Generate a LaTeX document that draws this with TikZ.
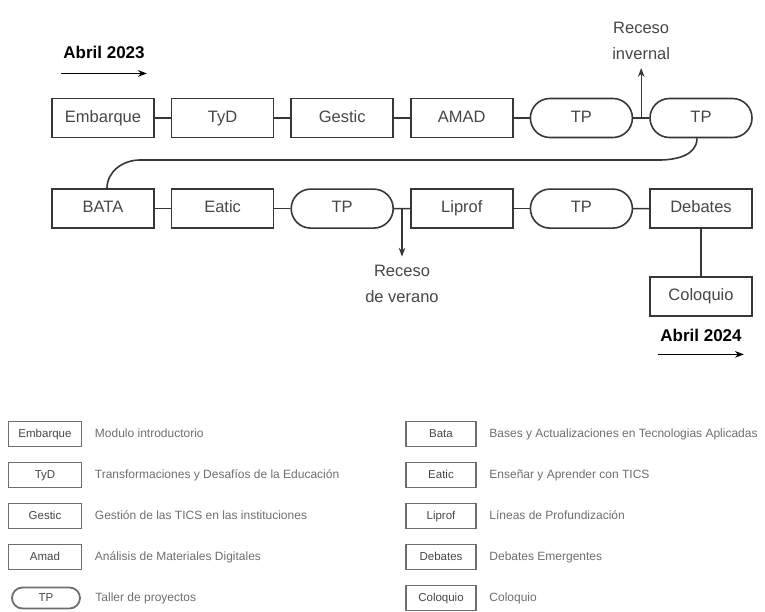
\documentclass[tikz,border=0pt]{standalone}
\usepackage{fontspec}
\setmainfont{Liberation Sans}
\usetikzlibrary{positioning, arrows.meta, shapes.misc}
\definecolor{linegray}{RGB}{55, 55, 55}
\definecolor{textgray}{RGB}{70, 70, 70}
\definecolor{leggray}{RGB}{110, 110, 110}

\begin{document}
\begin{tikzpicture}[x=1pt, y=-1pt, >=Stealth, node distance=16pt,
    every node/.style={font=\fontsize{16.5}{26}\selectfont, text=textgray},
    modbox/.style={draw=linegray, line width=1.6pt, minimum width=102pt, minimum height=39pt, inner sep=0pt,
        text height=12pt, text depth=3.5pt},
    tpbox/.style={modbox, rounded rectangle},
    link/.style={draw=linegray, line width=1.6pt},
    datelabel/.style={font=\fontsize{17}{20}\selectfont\bfseries, text=black, inner sep=2pt},
    legbox/.style={draw=leggray, line width=1.8pt, minimum width=73pt, minimum height=25pt, inner sep=0pt,
        text height=8.5pt, text depth=2.5pt, font=\fontsize{11.5}{13}\selectfont},
    legtp/.style={legbox, rounded rectangle, minimum width=68pt, minimum height=21pt},
    legtext/.style={anchor=west, font=\fontsize{12}{14}\selectfont, text=leggray, text height=9pt, text depth=2.5pt}]
    \useasboundingbox (0,0) rectangle (765,612);

    % First semester
    \node[modbox] (emb) at (103,118) {Embarque};
    \node[modbox, right=of emb] (tyd) {TyD};
    \node[modbox, right=of tyd] (gestic) {Gestic};
    \node[modbox, right=of gestic] (amad) {AMAD};
    \node[tpbox, right=of amad] (tpa) {TP};
    \node[tpbox, right=of tpa] (tpb) {TP};

    % Second semester
    \node[modbox, below=50pt of emb] (bata) {BATA};
    \node[modbox, right=of bata] (eatic) {Eatic};
    \node[tpbox, right=of eatic] (tpc) {TP};
    \node[modbox, right=of tpc] (liprof) {Liprof};
    \node[tpbox, right=of liprof] (tpd) {TP};
    \node[modbox, right=of tpd] (debates) {Debates};
    \node[modbox, below=47pt of debates] (coloquio) {Coloquio};

    \foreach \a/\b in {emb/tyd, tyd/gestic, gestic/amad, amad/tpa, tpa/tpb,
                       bata/eatic, eatic/tpc, tpc/liprof, liprof/tpd, tpd/debates, debates/coloquio}
        \draw[link] (\a) -- (\b);

    % Row change
    \coordinate (bend) at (0,160);
    \draw[link] ([xshift=-4pt]tpb.south) to[out=-90, in=0] ([xshift=-42pt]tpb.south |- bend)
        -- ([xshift=37pt]bata.north |- bend) to[out=180, in=90] ([xshift=4pt]bata.north);

    % Breaks
    \path (tpa.east) -- (tpb.west) coordinate[midway] (invmid);
    \node[align=center, inner sep=2pt, above=56pt of invmid] (invernal) {Receso\\invernal};
    \draw[link, line width=1.3pt, ->] (invmid) -- ([yshift=-6pt]invernal.south);

    \path (tpc.east) -- (liprof.west) coordinate[midway] (vermid);
    \node[align=center, inner sep=2pt, below=54pt of vermid] (verano) {Receso\\de verano};
    \draw[link, line width=1.3pt, ->] (vermid) -- ([yshift=6pt]verano.north);

    % Dates
    \node[datelabel] (inicio) at (104,52) {Abril 2023};
    \draw[line width=1.3pt, ->] ([yshift=-13pt]inicio.south west) -- ([yshift=-13pt]inicio.south east);
    \node[datelabel, below=10pt of coloquio] (fin) {Abril 2024};
    \draw[line width=1.3pt, ->] ([yshift=-11pt]fin.south west) -- ([yshift=-11pt]fin.south east);

    % Legend
    \foreach \abbr/\desc [count=\i] in {Embarque/Modulo introductorio,
        TyD/Transformaciones y Desafíos de la Educación,
        Gestic/Gestión de las TICS en las instituciones,
        Amad/Análisis de Materiales Digitales} {
        \node[legbox] (legl\i) at (45,393+41*\i) {\abbr};
        \node[legtext, right=9pt of legl\i] (descl\i) {\desc};
    }
    \node[legtp] (legtp) at (46,598) {TP};
    \node[legtext, right=11pt of legtp] (desctp) {Taller de proyectos};

    \foreach \abbr/\desc [count=\i] in {Bata/Bases y Actualizaciones en Tecnologias Aplicadas,
        Eatic/Enseñar y Aprender con TICS,
        Liprof/Líneas de Profundización,
        Debates/Debates Emergentes,
        Coloquio/Coloquio} {
        \node[legbox, minimum width=70pt] (legr\i) at (441,393+41*\i) {\abbr};
        \node[legtext, right=9pt of legr\i] (descr\i) {\desc};
    }
\end{tikzpicture}
\end{document}
